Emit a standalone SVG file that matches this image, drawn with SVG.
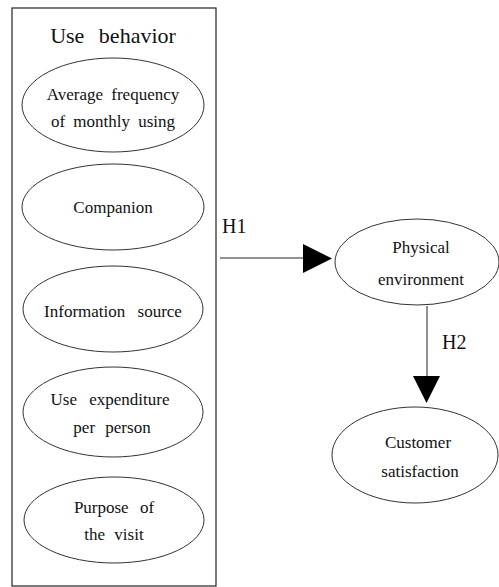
<svg xmlns="http://www.w3.org/2000/svg" width="499" height="587" viewBox="0 0 499 587" font-family="Liberation Serif, Times New Roman, DejaVu Serif, serif">
<style>
  .box { fill: none; stroke: #222; stroke-width: 1.2; }
  .node ellipse { fill: #fff; stroke: #333; stroke-width: 1; }
  .conn { stroke: #222; stroke-width: 1; fill: none; }
  .head { fill: #000; }
  text { font-family: "Liberation Serif", "Times New Roman", "DejaVu Serif", serif; fill: #111; }
</style>
<rect width="499" height="587" fill="#fff"/>
<g id="use-behavior">
  <rect class="box" x="12" y="8" width="204" height="578"/>
  <text x="113" y="43" font-size="22" text-anchor="middle" word-spacing="9">Use behavior</text>
</g>
<g id="avg-frequency" class="node">
  <ellipse cx="113" cy="105" rx="91" ry="47"/>
  <text x="113" y="100" font-size="17" text-anchor="middle" word-spacing="4">Average frequency</text>
  <text x="113" y="127" font-size="17" text-anchor="middle" word-spacing="4">of monthly using</text>
</g>
<g id="companion" class="node">
  <ellipse cx="113" cy="207" rx="91" ry="43"/>
  <text x="113" y="213" font-size="17" text-anchor="middle">Companion</text>
</g>
<g id="information-source" class="node">
  <ellipse cx="113" cy="309" rx="90" ry="43"/>
  <text x="113" y="317" font-size="17" text-anchor="middle" word-spacing="8">Information source</text>
</g>
<g id="use-expenditure" class="node">
  <ellipse cx="113" cy="412" rx="90" ry="45"/>
  <text x="110" y="405" font-size="17" text-anchor="middle" word-spacing="8">Use expenditure</text>
  <text x="112" y="433" font-size="17" text-anchor="middle" word-spacing="6">per person</text>
</g>
<g id="purpose" class="node">
  <ellipse cx="114" cy="520" rx="90" ry="43"/>
  <text x="114" y="513" font-size="17" text-anchor="middle" word-spacing="7">Purpose of</text>
  <text x="114" y="540" font-size="17" text-anchor="middle" word-spacing="5">the visit</text>
</g>
<g id="physical-environment" class="node">
  <ellipse cx="417" cy="262" rx="82" ry="43"/>
  <text x="421" y="253" font-size="17" text-anchor="middle">Physical</text>
  <text x="421" y="285" font-size="17" text-anchor="middle">environment</text>
</g>
<g id="customer-satisfaction" class="node">
  <ellipse cx="415" cy="455" rx="83" ry="48"/>
  <text x="418" y="448" font-size="17" text-anchor="middle">Customer</text>
  <text x="420" y="477" font-size="17" text-anchor="middle">satisfaction</text>
</g>
<g id="connectors">
  <line class="conn" x1="220" y1="258" x2="304" y2="258"/>
  <polygon class="head" points="303,244 332,258.5 303,273"/>
  <text x="222" y="233" font-size="20">H1</text>
  <line class="conn" x1="427" y1="306" x2="427" y2="377"/>
  <polygon class="head" points="413,376 440,376 426.5,403"/>
  <text x="442" y="349" font-size="20">H2</text>
</g>
</svg>
